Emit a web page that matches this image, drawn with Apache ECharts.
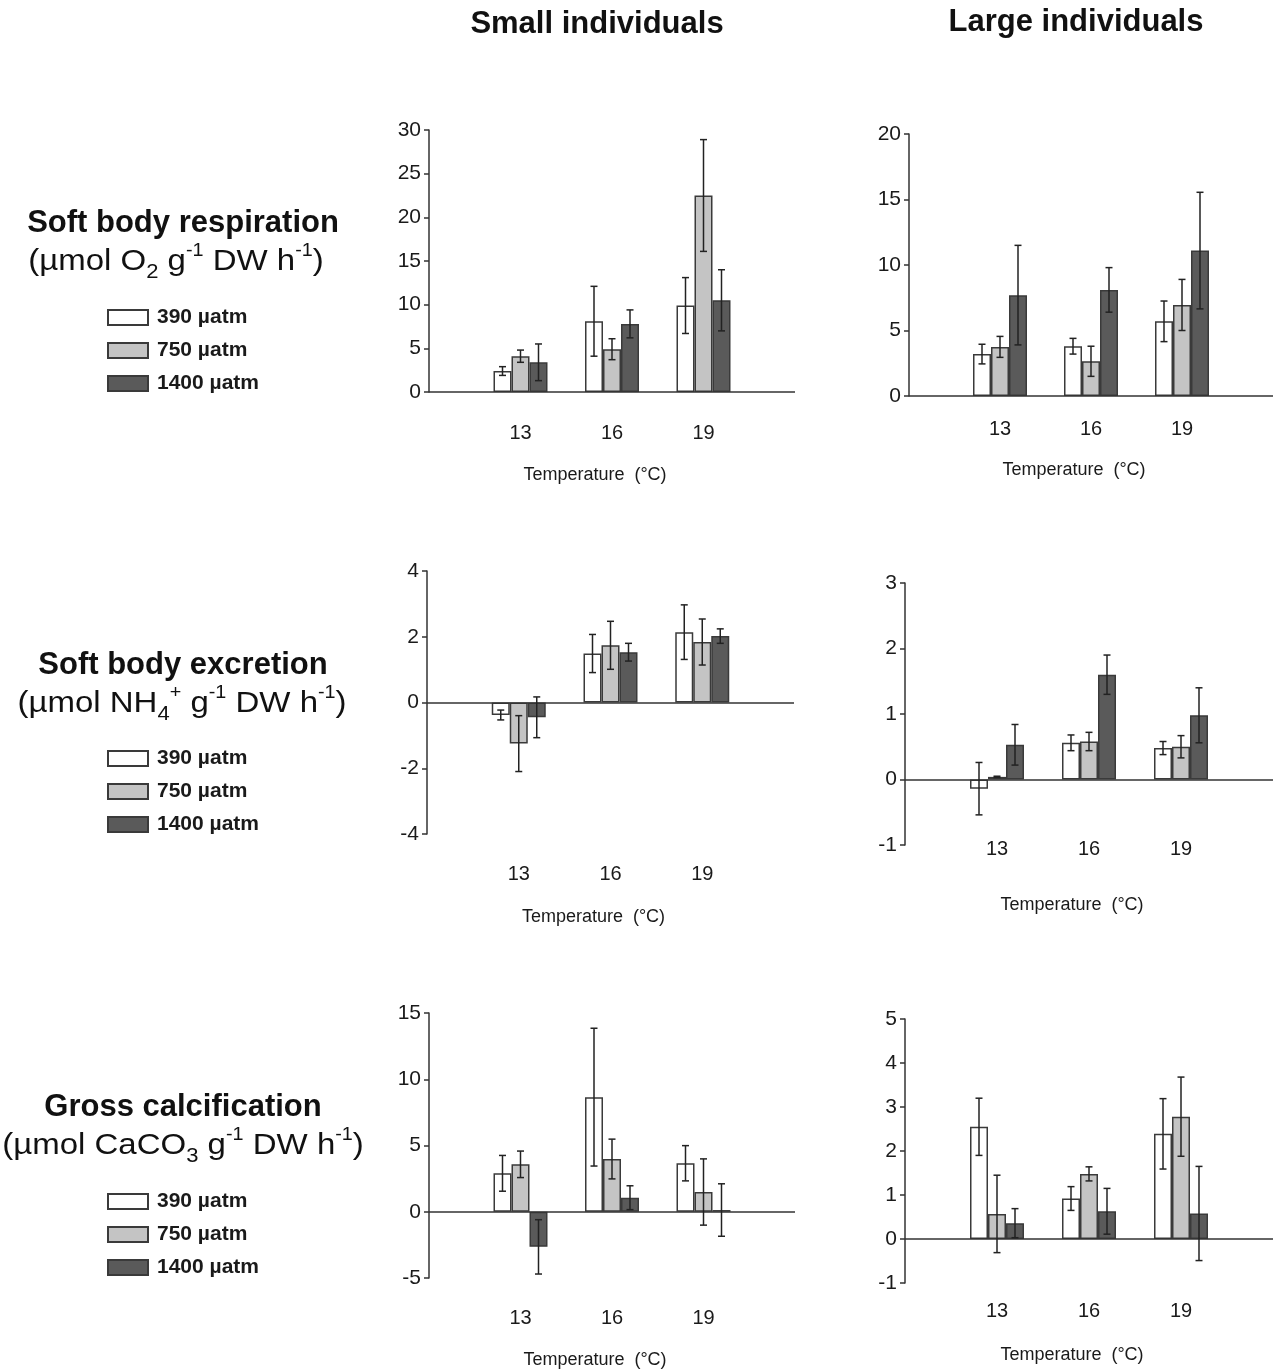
<!DOCTYPE html>
<html>
<head>
<meta charset="utf-8">
<script src="https://cdn.jsdelivr.net/npm/echarts@6/dist/echarts.min.js"></script>
<style>
  html, body { margin: 0; padding: 0; background: #fff; }
  #chart { width: 1276px; height: 1371px; }
</style>
</head>
<body>
<div id="chart"></div>
<script>
// ---------- data ----------
const categories = ['13', '16', '19'];
const pressures = ['390 µatm', '750 µatm', '1400 µatm'];

// each: [390 series, 750 series, 1400 series] over categories 13,16,19
const respSmallMean = [[2.4, 8.1, 9.9], [4.1, 4.9, 22.5], [3.4, 7.8, 10.5]];
const respSmallErr  = [[0.5, 4.0, 3.2], [0.7, 1.2, 6.4], [2.1, 1.6, 3.5]];
const respLargeMean = [[3.2, 3.8, 5.7], [3.75, 2.65, 6.95], [7.7, 8.1, 11.1]];
const respLargeErr  = [[0.75, 0.6, 1.55], [0.8, 1.15, 1.95], [3.8, 1.7, 4.45]];
const excSmallMean  = [[-0.38, 1.49, 2.14], [-1.25, 1.74, 1.84], [-0.45, 1.53, 2.02]];
const excSmallErr   = [[0.15, 0.58, 0.83], [0.85, 0.73, 0.7], [0.62, 0.27, 0.22]];
const excLargeMean  = [[-0.14, 0.56, 0.48], [0.04, 0.58, 0.5], [0.53, 1.6, 0.98]];
const excLargeErr   = [[0.4, 0.12, 0.1], [0.01, 0.14, 0.17], [0.31, 0.3, 0.42]];
const calcSmallMean = [[2.9, 8.65, 3.66], [3.58, 3.98, 1.49], [-2.65, 1.06, 0.13]];
const calcSmallErr  = [[1.35, 5.2, 1.33], [1.0, 1.5, 2.5], [2.05, 0.9, 1.98]];
const calcLargeMean = [[2.55, 0.92, 2.39], [0.57, 1.48, 2.78], [0.36, 0.63, 0.58]];
const calcLargeErr  = [[0.65, 0.27, 0.8], [0.88, 0.16, 0.9], [0.33, 0.52, 1.07]];

// y tick labels
const respSmallTicks = [0, 5, 10, 15, 20, 25, 30];
const respLargeTicks = [0, 5, 10, 15, 20];
const excSmallTicks  = [-4, -2, 0, 2, 4];
const excLargeTicks  = [-1, 0, 1, 2, 3];
const calcSmallTicks = [-5, 0, 5, 10, 15];
const calcLargeTicks = [-1, 0, 1, 2, 3, 4, 5];

const xName = 'Temperature  (°C)';

// ---------- layout / style ----------
const FONT = '"Liberation Sans", Arial, Helvetica, sans-serif';
const BAR_W = 18;
const fills = ['#ffffff', '#c4c4c4', '#5a5a5a'];
const EDGE = '#3a3a3a';

const panels = [
  { mean: respSmallMean, err: respSmallErr, ticks: respSmallTicks, left: 429, top: 130, width: 366, height: 262, labelMargin: 31, nameGap: 74 },
  { mean: respLargeMean, err: respLargeErr, ticks: respLargeTicks, left: 909, top: 134, width: 366, height: 262, labelMargin: 23, nameGap: 65 },
  { mean: excSmallMean,  err: excSmallErr,  ticks: excSmallTicks,  left: 427, top: 571, width: 367, height: 263, labelMargin: 30, nameGap: 74 },
  { mean: excLargeMean,  err: excLargeErr,  ticks: excLargeTicks,  left: 905, top: 583, width: 369, height: 262, labelMargin: -6, nameGap: 51 },
  { mean: calcSmallMean, err: calcSmallErr, ticks: calcSmallTicks, left: 429, top: 1013, width: 366, height: 265, labelMargin: 30, nameGap: 73 },
  { mean: calcLargeMean, err: calcLargeErr, ticks: calcLargeTicks, left: 905, top: 1019, width: 368, height: 264, labelMargin: 18, nameGap: 63 }
];

const xData = [''].concat(categories, ['']);

const grids = [], xAxes = [], yAxes = [], series = [];

panels.forEach((p, gi) => {
  grids.push({ left: p.left, top: p.top, width: p.width, height: p.height, containLabel: false });
  xAxes.push({
    type: 'category', gridIndex: gi, data: xData, boundaryGap: false,
    axisLine: { show: false, onZero: false }, axisTick: { show: false },
    axisLabel: { interval: 0, margin: p.labelMargin, fontSize: 20, color: '#1a1a1a', fontFamily: FONT },
    name: xName, nameLocation: 'middle', nameGap: p.nameGap,
    nameTextStyle: { fontSize: 18, color: '#1a1a1a', fontFamily: FONT, padding: [0, 34, 0, 0] }
  });
  const tk = p.ticks;
  yAxes.push({
    type: 'value', gridIndex: gi, min: tk[0], max: tk[tk.length - 1], interval: tk[1] - tk[0],
    axisLine: { show: true, lineStyle: { color: '#333', width: 1.5 } },
    axisTick: { show: true, length: 5, lineStyle: { color: '#333', width: 1.5 } },
    splitLine: { show: false },
    axisLabel: { margin: 8, fontSize: 21, color: '#1a1a1a', fontFamily: FONT }
  });
  const errData = [];
  pressures.forEach((name, k) => {
    const s = {
      type: 'bar', name: name, xAxisIndex: gi, yAxisIndex: gi,
      barWidth: BAR_W, barGap: '0%',
      itemStyle: { color: fills[k], borderColor: EDGE, borderWidth: 1.5 },
      data: ['-'].concat(p.mean[k], ['-']),
      silent: true, animation: false
    };
    if (k === 0) {
      s.markLine = {
        silent: true, symbol: 'none', animation: false,
        label: { show: false },
        lineStyle: { color: '#333', width: 1.5, type: 'solid' },
        data: [{ yAxis: 0 }]
      };
    }
    series.push(s);
    p.mean[k].forEach((m, ci) => {
      errData.push([ci + 1, m - p.err[k][ci], m + p.err[k][ci], k]);
    });
  });
  series.push({
    type: 'custom', xAxisIndex: gi, yAxisIndex: gi, silent: true, animation: false, z: 5,
    data: errData,
    renderItem: function (params, api) {
      const xi = api.value(0), lo = api.value(1), hi = api.value(2), k = api.value(3);
      const pHi = api.coord([xi, hi]);
      const pLo = api.coord([xi, lo]);
      const x = pHi[0] + (k - 1) * BAR_W;
      const cap = 3.5;
      const st = { stroke: '#222', lineWidth: 1.5 };
      return {
        type: 'group',
        children: [
          { type: 'line', shape: { x1: x, y1: pHi[1], x2: x, y2: pLo[1] }, style: st },
          { type: 'line', shape: { x1: x - cap, y1: pHi[1], x2: x + cap, y2: pHi[1] }, style: st },
          { type: 'line', shape: { x1: x - cap, y1: pLo[1], x2: x + cap, y2: pLo[1] }, style: st }
        ]
      };
    }
  });
});

// legends, one per row
const legendTops = [307, 748, 1191];
const legends = legendTops.map(t => ({
  left: 107, top: t, orient: 'vertical', padding: 0,
  itemWidth: 40, itemHeight: 15, itemGap: 12,
  selectedMode: false, icon: 'rect',
  data: pressures,
  textStyle: { fontSize: 21, fontWeight: 'bold', color: '#1a1a1a', fontFamily: FONT, padding: [0, 0, 0, 4] }
}));

// text blocks
const titleStyle = (x, y, text) => ({
  type: 'text', x: x, y: y,
  style: { text: text, x: 0, y: 0, font: 'bold 31px ' + FONT, fill: '#111', textAlign: 'center', textVerticalAlign: 'middle' }
});
const richStyle = {
  sub: { fontSize: 20, lineHeight: 20, verticalAlign: 'bottom', fontFamily: FONT, fill: '#111', color: '#111' },
  sup: { fontSize: 18, lineHeight: 18, verticalAlign: 'top', fontFamily: FONT, fill: '#111', color: '#111' }
};
const unitText = (x, y, text) => ({
  type: 'text', x: x, y: y, scaleX: 1.1,
  style: {
    text: text, x: 0, y: 0, fontSize: 30, fontFamily: FONT, fill: '#111', lineHeight: 40,
    textAlign: 'center', textVerticalAlign: 'middle', rich: richStyle
  }
});

const graphics = [
  titleStyle(597, 24, 'Small individuals'),
  titleStyle(1076, 22, 'Large individuals'),
  titleStyle(183, 223, 'Soft body respiration'),
  unitText(176, 262, '(µmol O{sub|2} g{sup|-1} DW h{sup|-1})'),
  titleStyle(183, 665, 'Soft body excretion'),
  unitText(182, 704, '(µmol NH{sub|4}{sup|+} g{sup|-1} DW h{sup|-1})'),
  titleStyle(183, 1107, 'Gross calcification'),
  unitText(183, 1146, '(µmol CaCO{sub|3} g{sup|-1} DW h{sup|-1})')
];

const chart = echarts.init(document.getElementById('chart'), null, { renderer: 'canvas' });
chart.setOption({
  animation: false,
  backgroundColor: '#ffffff',
  textStyle: { fontFamily: FONT },
  grid: grids,
  xAxis: xAxes,
  yAxis: yAxes,
  legend: legends,
  graphic: graphics,
  series: series
});
</script>
</body>
</html>
